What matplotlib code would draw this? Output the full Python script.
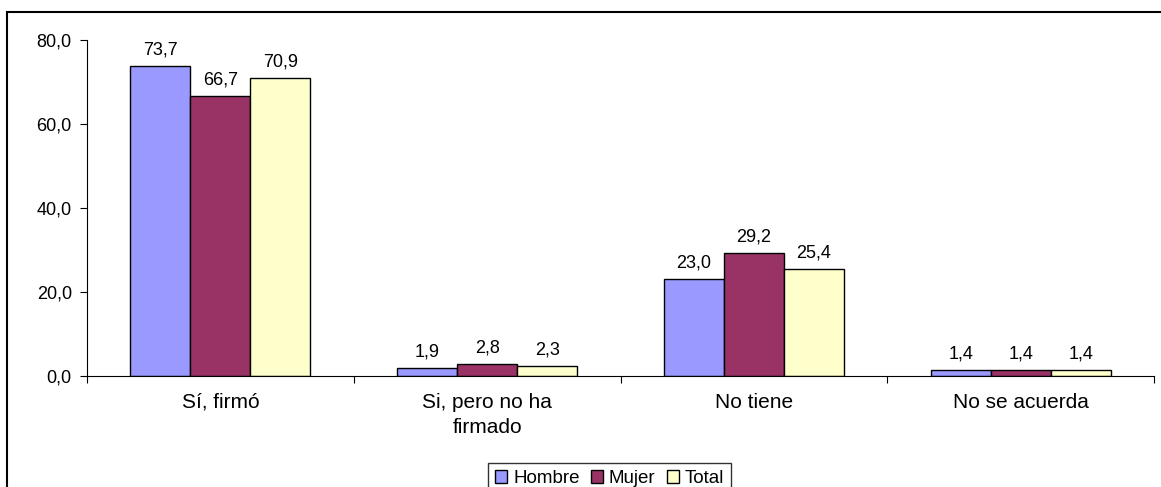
import matplotlib.pyplot as plt
import numpy as np
from matplotlib.patches import Rectangle

categories = ["Sí, firmó", "Si, pero no ha\nfirmado", "No tiene", "No se acuerda"]
hombre = [73.7, 1.9, 23.0, 1.4]
mujer = [66.7, 2.8, 29.2, 1.4]
total = [70.9, 2.3, 25.4, 1.4]
series = [("Hombre", hombre, "#9999FF"), ("Mujer", mujer, "#993366"), ("Total", total, "#FFFFCC")]

plt.rcParams['font.family'] = ['Liberation Sans', 'DejaVu Sans']

fig = plt.figure(figsize=(11.61, 4.87), dpi=100)
ax = fig.add_axes([0.075, 0.228, 0.919, 0.69])

x = np.arange(len(categories))
width = 0.225
for i, (name, vals, color) in enumerate(series):
    pos = x + (i - 1) * width
    bars = ax.bar(pos, vals, width, color=color, edgecolor="black", linewidth=1, label=name)
    for b, v in zip(bars, vals):
        ax.text(b.get_x() + b.get_width() / 2, v + 1.8, f"{v:.1f}".replace(".", ","),
                ha="center", va="bottom", fontsize=13)

ax.set_xlim(-0.5, len(categories) - 0.5)
ax.set_ylim(0, 80)
ax.set_yticks(np.arange(0, 81, 20))
ax.set_yticklabels([f"{t:.1f}".replace(".", ",") for t in np.arange(0, 81, 20)], fontsize=13)
ax.set_xticks(np.arange(-0.5, len(categories), 1.0))
ax.set_xticklabels([])
ax.set_xticks(x, minor=True)
ax.set_xticklabels(categories, minor=True, fontsize=15, linespacing=1.45)
ax.tick_params(axis="x", which="minor", length=0, pad=12)
ax.tick_params(axis="x", which="major", length=5, direction="out")
ax.tick_params(axis="y", length=5, direction="out", pad=6)
ax.spines["top"].set_visible(False)
ax.spines["right"].set_visible(False)

leg = fig.legend(loc="lower center", bbox_to_anchor=(0.525, -0.035), ncol=3, fontsize=13.5,
                 frameon=True, fancybox=False, edgecolor="black", handlelength=0.65,
                 handleheight=0.65, handletextpad=0.3, columnspacing=0.6, borderpad=0.4)
leg.get_frame().set_linewidth(1)

fig.patches.append(Rectangle((7 / 1161, -0.1), 1.2, 1 - 12 / 487 + 0.1, transform=fig.transFigure,
                             fill=False, edgecolor="black", linewidth=1.5))

fig.savefig("out.png", dpi=100)
